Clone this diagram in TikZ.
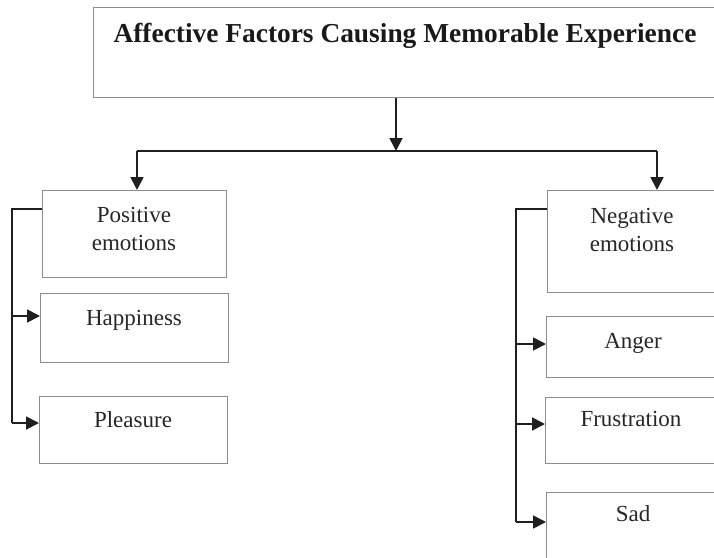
\documentclass[tikz,border=0pt]{standalone}
\usepackage{fontspec}
\setmainfont{Liberation Serif}
\usetikzlibrary{arrows.meta}

\tikzset{
  box/.style={draw=black!45, line width=1.4pt, fill=none, inner sep=0pt, anchor=north west},
  lbl/.style={inner sep=0pt, anchor=base, align=center, font=\fontsize{23}{28}\selectfont, text=black!85},
  ttl/.style={inner sep=0pt, anchor=base, font=\bfseries\fontsize{27.4}{32}\selectfont, text=black!90},
  wire/.style={draw=black!88, line width=1.8pt},
  arr/.style={wire, -{Triangle[length=13pt,width=13pt]}}
}

\begin{document}
\begin{tikzpicture}[x=1pt,y=-1pt]
  \useasboundingbox (0,0) rectangle (714,557);
  \clip (0,0) rectangle (714,557);

  % heading box
  \node[box, minimum width=625pt, minimum height=90pt] (top) at (93,7) {};
  \node[ttl] (title) at (405,42) {Affective Factors Causing Memorable Experience};

  % positive branch
  \node[box, minimum width=184pt, minimum height=87pt] (pos) at (42,190) {};
  \node[lbl] (postxt) at (134,250) {Positive\\emotions};
  \node[box, minimum width=188pt, minimum height=69pt] (hap) at (40,293) {};
  \node[lbl] (haptxt) at (134,325) {Happiness};
  \node[box, minimum width=188pt, minimum height=67pt] (plea) at (39,396) {};
  \node[lbl] (pleatxt) at (133,427) {Pleasure};

  % negative branch
  \node[box, minimum width=175pt, minimum height=102pt] (neg) at (547,190) {};
  \node[lbl] (negtxt) at (632,251) {Negative\\emotions};
  \node[box, minimum width=175pt, minimum height=61pt] (ang) at (546,316) {};
  \node[lbl] (angtxt) at (633,348) {Anger};
  \node[box, minimum width=175pt, minimum height=66pt] (fru) at (545,397) {};
  \node[lbl] (frutxt) at (631,426) {Frustration};
  \node[box, minimum width=175pt, minimum height=70pt] (sad) at (546,492) {};
  \node[lbl] (sadtxt) at (633,521) {Sad};

  % split below the heading
  \coordinate (hub) at (396,151);
  \coordinate (lsplit) at (137,151);
  \coordinate (rsplit) at (657,151);
  \draw[arr] (top.south -| hub) -- (hub);
  \draw[wire] (lsplit) -- (rsplit);
  \draw[arr] (lsplit) -- (lsplit |- pos.north);
  \draw[arr] (rsplit) -- (rsplit |- neg.north);

  % left bus
  \coordinate (lbus) at (12,209);
  \coordinate (hapin) at (40,316);
  \coordinate (pleain) at (39,423);
  \draw[wire] (pos.west |- lbus) -- (lbus) -- (lbus |- pleain);
  \draw[arr] (lbus |- hapin) -- (hapin);
  \draw[arr] (lbus |- pleain) -- (pleain);

  % right bus
  \coordinate (rbus) at (516,209);
  \coordinate (angin) at (546,344);
  \coordinate (fruin) at (545,424);
  \coordinate (sadin) at (546,522);
  \draw[wire] (neg.west |- rbus) -- (rbus) -- (rbus |- sadin);
  \draw[arr] (rbus |- angin) -- (angin);
  \draw[arr] (rbus |- fruin) -- (fruin);
  \draw[arr] (rbus |- sadin) -- (sadin);
\end{tikzpicture}
\end{document}
